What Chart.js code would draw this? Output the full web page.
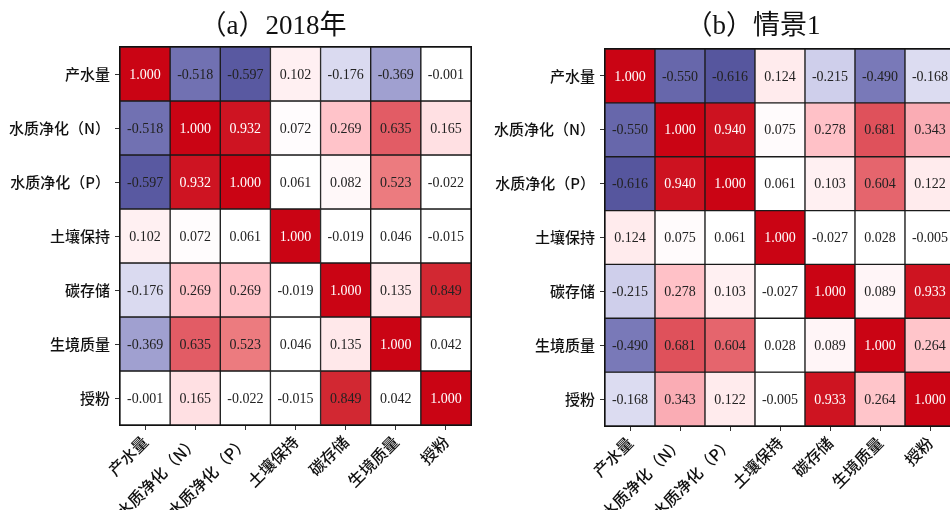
<!DOCTYPE html>
<html>
<head>
<meta charset="utf-8">
<script src="https://cdn.jsdelivr.net/npm/chart.js@4.4.1/dist/chart.umd.min.js"></script>
<style>
  html, body { margin: 0; padding: 0; background: #fff; overflow: hidden; }
  body { width: 950px; height: 510px; position: relative; }
  .panel { position: absolute; top: 0; width: 480px; height: 510px; }
  #panelA { left: 0; }
  #panelB { left: 480px; }
</style>
</head>
<body>
<div class="panel" id="panelA"><canvas id="chartA"></canvas></div>
<div class="panel" id="panelB"><canvas id="chartB"></canvas></div>
<script>
// Ecosystem services compared in both correlation matrices
const services = ['产水量', '水质净化（N）', '水质净化（P）', '土壤保持', '碳存储', '生境质量', '授粉'];

// Correlation coefficients, 2018 (row by row)
const corr2018 = [
  [1.000, -0.518, -0.597, 0.102, -0.176, -0.369, -0.001],
  [-0.518, 1.000, 0.932, 0.072, 0.269, 0.635, 0.165],
  [-0.597, 0.932, 1.000, 0.061, 0.082, 0.523, -0.022],
  [0.102, 0.072, 0.061, 1.000, -0.019, 0.046, -0.015],
  [-0.176, 0.269, 0.269, -0.019, 1.000, 0.135, 0.849],
  [-0.369, 0.635, 0.523, 0.046, 0.135, 1.000, 0.042],
  [-0.001, 0.165, -0.022, -0.015, 0.849, 0.042, 1.000]
];

// Correlation coefficients, scenario 1 (row by row)
const corrScenario1 = [
  [1.000, -0.550, -0.616, 0.124, -0.215, -0.490, -0.168],
  [-0.550, 1.000, 0.940, 0.075, 0.278, 0.681, 0.343],
  [-0.616, 0.940, 1.000, 0.061, 0.103, 0.604, 0.122],
  [0.124, 0.075, 0.061, 1.000, -0.027, 0.028, -0.005],
  [-0.215, 0.278, 0.103, -0.027, 1.000, 0.089, 0.933],
  [-0.490, 0.681, 0.604, 0.028, 0.089, 1.000, 0.264],
  [-0.168, 0.343, 0.122, -0.005, 0.933, 0.264, 1.000]
];

// Diverging colour ramp: blue (negative) -> white -> red (positive)
const colorStops = [
  [-1.0, [40, 40, 120]],
  [-0.6, [88, 88, 160]],
  [-0.5, [118, 118, 182]],
  [-0.37, [160, 160, 208]],
  [-0.2, [212, 212, 238]],
  [-0.16, [222, 222, 242]],
  [-0.04, [255, 255, 255]],
  [0.065, [255, 255, 255]],
  [0.1, [255, 241, 243]],
  [0.135, [255, 232, 234]],
  [0.27, [255, 195, 201]],
  [0.35, [250, 170, 178]],
  [0.52, [236, 124, 128]],
  [0.65, [225, 88, 98]],
  [0.85, [210, 40, 50]],
  [1.0, [202, 4, 20]]
];

function cellColor(v) {
  for (let k = 1; k < colorStops.length; k++) {
    const [v0, c0] = colorStops[k - 1];
    const [v1, c1] = colorStops[k];
    if (v <= v1) {
      const t = Math.max(0, (v - v0) / (v1 - v0));
      const c = c0.map((a, i) => Math.round(a + (c1[i] - a) * t));
      return `rgb(${c[0]},${c[1]},${c[2]})`;
    }
  }
  const c = colorStops[colorStops.length - 1][1];
  return `rgb(${c[0]},${c[1]},${c[2]})`;
}

const LABEL_FONT = "'Liberation Serif', 'Noto Sans CJK SC', serif";
const CJK_FONT = "'Noto Sans CJK SC', 'Liberation Serif', serif";

// Writes each coefficient in the middle of its cell and frames the grid
const cellTextPlugin = {
  id: 'cellText',
  afterDatasetsDraw(chart) {
    const ctx = chart.ctx;
    ctx.save();
    ctx.font = `14px ${LABEL_FONT}`;
    ctx.textAlign = 'center';
    ctx.textBaseline = 'middle';
    chart.data.datasets.forEach((ds, di) => {
      const meta = chart.getDatasetMeta(di);
      meta.data.forEach((bar, j) => {
        const v = ds.values[j];
        ctx.fillStyle = v > 0.9 ? '#ffffff' : '#222222';
        ctx.fillText(v.toFixed(3), bar.x, (bar.y + bar.base) / 2 + 1);
      });
    });
    const a = chart.chartArea;
    ctx.strokeStyle = '#111';
    ctx.lineWidth = 1;
    ctx.strokeRect(a.left - 0.5, a.top - 0.5, a.right - a.left + 1, a.bottom - a.top + 1);
    ctx.restore();
  }
};

// Panel heading
const headingPlugin = {
  id: 'heading',
  afterDraw(chart, args, opts) {
    const ctx = chart.ctx;
    ctx.save();
    ctx.font = `27px ${LABEL_FONT}`;
    ctx.fillStyle = '#111';
    ctx.textAlign = 'center';
    ctx.textBaseline = 'middle';
    ctx.fillText(opts.text, opts.x, opts.y);
    ctx.restore();
  }
};

function buildHeatmap(canvasId, matrix, heading, geom) {
  const datasets = matrix.map((row, i) => ({
    label: services[i],
    values: row,
    data: row.map(() => [i, i + 1]),
    backgroundColor: row.map(cellColor),
    borderColor: '#1a1a1a',
    borderWidth: 1,
    borderSkipped: false,
    barPercentage: 1,
    categoryPercentage: 1,
    grouped: false
  }));

  return new Chart(document.getElementById(canvasId), {
    type: 'bar',
    data: { labels: services, datasets },
    options: {
      responsive: true,
      maintainAspectRatio: false,
      animation: false,
      layout: { padding: { top: geom.top, right: geom.right, left: 0, bottom: 0 } },
      plugins: {
        legend: { display: false },
        tooltip: { enabled: false },
        heading: { text: heading, x: geom.titleX, y: 27 }
      },
      scales: {
        x: {
          type: 'category',
          offset: true,
          border: { display: false },
          grid: { offset: false, drawOnChartArea: false, drawTicks: true, tickLength: 5, color: '#333' },
          ticks: {
            autoSkip: false,
            minRotation: 45,
            maxRotation: 45,
            padding: 2,
            color: '#111',
            font: { family: CJK_FONT, size: 16, weight: '500' }
          },
          afterFit(scale) { scale.height = geom.xHeight; }
        },
        y: {
          type: 'linear',
          min: 0,
          max: services.length,
          reverse: true,
          border: { display: false },
          grid: { drawOnChartArea: false, drawTicks: true, tickLength: 5, color: '#333' },
          afterBuildTicks(scale) {
            scale.ticks = services.map((_, i) => ({ value: i + 0.5 }));
          },
          ticks: {
            padding: 5,
            color: '#111',
            font: { family: CJK_FONT, size: 15, weight: '500' },
            callback(value) { return services[Math.floor(value)]; }
          },
          afterFit(scale) { scale.width = geom.yWidth; }
        }
      }
    },
    plugins: [cellTextPlugin, headingPlugin]
  });
}

buildHeatmap('chartA', corr2018, '（a）2018年',
  { top: 47, right: 9, xHeight: 85, yWidth: 120, titleX: 273 });
buildHeatmap('chartB', corrScenario1, '（b）情景1',
  { top: 49, right: 5, xHeight: 84, yWidth: 125, titleX: 273 });
</script>
</body>
</html>
